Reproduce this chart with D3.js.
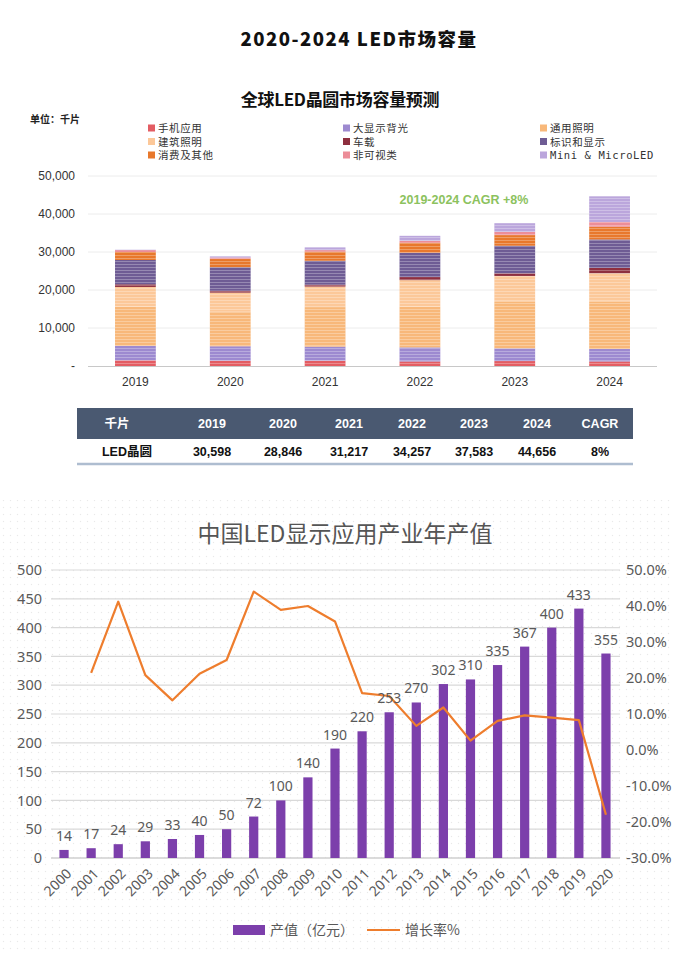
<!DOCTYPE html>
<html><head><meta charset="utf-8">
<script src="https://cdn.jsdelivr.net/npm/d3@7"></script>
<style>body{margin:0;background:#fff}svg{display:block}</style>
</head><body><svg id="c" width="674" height="954"></svg>
<script>
// ---------- Top chart data ----------
const years = ["2019","2020","2021","2022","2023","2024"];
const seriesNames = ["手机应用","大显示背光","通用照明","建筑照明","车载","标识和显示","消费及其他","非可视类","Mini & MicroLED"];
const phone        = [1500,1400,1400,1200,1300,1200];
const bigDisplay   = [3800,3800,3700,3700,3350,3300];
const general      = [10300,9100,10400,10700,12250,12400];
const architecture = [5200,5000,5400,7000,6800,7500];
const automotive   = [700,500,500,800,700,1400];
const signage      = [6400,6200,6300,6400,7250,7500];
const consumer     = [2100,2150,2400,2650,2800,3350];
const invisible    = [500,400,400,500,850,1250];
const miniLed      = [98,296,717,1307,2283,6756];
const totals       = [30598,28846,31217,34257,37583,44656];
const cagrText     = "8%";
const topTicks     = [0,10000,20000,30000,40000,50000];
const tableHeader  = ["千片","2019","2020","2021","2022","2023","2024","CAGR"];

// ---------- Bottom chart data ----------
const cnYears  = ["2000","2001","2002","2003","2004","2005","2006","2007","2008","2009","2010","2011","2012","2013","2014","2015","2016","2017","2018","2019","2020"];
const cnValue  = [14,17,24,29,33,40,50,72,100,140,190,220,253,270,302,310,335,367,400,433,355];
const cnGrowth = [null,21.4,41.2,20.8,13.8,21.2,25.0,44.0,38.9,40.0,35.7,15.8,15.0,6.7,11.8,2.6,8.1,9.6,9.0,8.3,-18.0];
const leftTicks  = [0,50,100,150,200,250,300,350,400,450,500];
const rightTicks = [-30,-20,-10,0,10,20,30,40,50];

const colors = ["#e35d63","#9d8ad0","#f8b87a","#fcc899","#8e2f3f","#6e5c94","#e8782c","#ec8d98","#bba6dc"];

const svg = d3.select("#c");
const defs = svg.append("defs");
const stripe = defs.append("pattern").attr("id","stripe").attr("patternUnits","userSpaceOnUse")
  .attr("width",4).attr("height",3);
stripe.append("rect").attr("x",0).attr("y",0).attr("width",4).attr("height",1).attr("fill","#fff").attr("opacity",0.28);
const dots = defs.append("pattern").attr("id","dots").attr("patternUnits","userSpaceOnUse")
  .attr("width",7).attr("height",7);
dots.append("circle").attr("cx",3.5).attr("cy",3.5).attr("r",0.7).attr("fill","#e9e9e9");

const SANS = "'Liberation Sans', Arial, 'Noto Sans CJK SC', sans-serif";
const CJK = "'Noto Sans CJK SC', 'Noto Sans', sans-serif";

// ---------- Titles ----------
svg.append("text").attr("x",359).attr("y",46).attr("text-anchor","middle")
  .style("font-family",CJK).style("font-weight",900).style("font-size","18.5px").style("letter-spacing","1.5px")
  .attr("fill","#111").text("2020-2024 LED市场容量");
svg.append("text").attr("x",340).attr("y",106).attr("text-anchor","middle")
  .style("font-family",CJK).style("font-weight",700).style("font-size","17px").style("letter-spacing","-0.3px")
  .attr("fill","#111").text("全球LED晶圆市场容量预测");
svg.append("text").attr("x",30).attr("y",123)
  .style("font-family",CJK).style("font-weight",700).style("font-size","10px")
  .attr("fill","#222").text("单位：千片");

// legend top
const legX = [148,343,540], legY = [128,141.5,155];
seriesNames.forEach((n,i)=>{
  const g = svg.append("g").attr("transform",`translate(${legX[i%3]},${legY[Math.floor(i/3)]})`);
  g.append("rect").attr("x",0).attr("y",-3.5).attr("width",7).attr("height",7).attr("fill",colors[i]);
  g.append("text").attr("x",10).attr("y",4).style("font-family","'DejaVu Sans Mono','Noto Sans CJK SC',monospace")
    .style("font-size","10.5px").style("letter-spacing","0.6px").attr("fill","#333").text(n);
});

// ---------- Top stacked chart ----------
const x1 = d3.scaleBand().domain(years).range([88,657]).paddingInner(0.57).paddingOuter(0.285);
const y1 = d3.scaleLinear().domain([0,50000]).range([366,176]);

svg.append("g").selectAll("line").data(topTicks.filter(d=>d>0)).join("line")
  .attr("x1",88).attr("x2",657).attr("y1",d=>y1(d)).attr("y2",d=>y1(d))
  .attr("stroke","#ececec").attr("stroke-width",1);

const topAxis = svg.append("g").attr("transform","translate(78,0)")
  .call(d3.axisLeft(y1).tickValues(topTicks).tickSize(0).tickFormat(d=>d===0?"-":d3.format(",")(d)));
topAxis.select(".domain").remove();
topAxis.selectAll("text").style("font-family",SANS).style("font-size","12px").attr("fill","#333");

const rows = years.map((y,i)=>({year:y, s0:phone[i], s1:bigDisplay[i], s2:general[i], s3:architecture[i], s4:automotive[i], s5:signage[i], s6:consumer[i], s7:invisible[i], s8:miniLed[i]}));
const keys = ["s0","s1","s2","s3","s4","s5","s6","s7","s8"];
const stacked = d3.stack().keys(keys)(rows);
const segG = svg.append("g");
stacked.forEach((layer,k)=>{
  segG.append("g").selectAll("rect").data(layer).join("rect")
    .attr("x",d=>x1(d.data.year)).attr("width",x1.bandwidth())
    .attr("y",d=>y1(d[1])).attr("height",d=>y1(d[0])-y1(d[1]))
    .attr("fill",colors[k]);
});
// texture overlay
svg.append("g").selectAll("rect").data(rows).join("rect")
  .attr("x",d=>x1(d.year)).attr("width",x1.bandwidth())
  .attr("y",(d,i)=>y1(totals[i])).attr("height",(d,i)=>y1(0)-y1(totals[i]))
  .attr("fill","url(#stripe)");

svg.append("line").attr("x1",88).attr("x2",657).attr("y1",y1(0)+0.5).attr("y2",y1(0)+0.5)
  .attr("stroke","#c8c8c8").attr("stroke-width",1.2);

const xAxisTop = svg.append("g").attr("transform",`translate(0,${y1(0)})`)
  .call(d3.axisBottom(x1).tickSize(0).tickPadding(11));
xAxisTop.select(".domain").remove();
xAxisTop.selectAll("text").style("font-family",SANS).style("font-size","12px").attr("fill","#333");

svg.append("text").attr("x",464).attr("y",204).attr("text-anchor","middle")
  .style("font-family",SANS).style("font-weight",700).style("font-size","12.5px")
  .attr("fill","#8cc25e").text("2019-2024 CAGR +" + cagrText);

// ---------- Table ----------
const colX = [117,212,283,349,412,474,537,600];
svg.append("rect").attr("x",77).attr("y",408).attr("width",556).attr("height",31).attr("fill","#4a5971");
svg.append("g").selectAll("text").data(tableHeader).join("text")
  .attr("x",(d,i)=>colX[i]).attr("y",428).attr("text-anchor","middle")
  .style("font-family",SANS).style("font-weight",700).style("font-size","12.5px").attr("fill","#fff").text(d=>d);
const rowVals = ["LED晶圆"].concat(totals.map(d3.format(","))).concat([cagrText]);
svg.append("g").selectAll("text").data(rowVals).join("text")
  .attr("x",(d,i)=>i===0?127:colX[i]).attr("y",456).attr("text-anchor","middle")
  .style("font-family",SANS).style("font-weight",700).style("font-size","12.5px").attr("fill","#111").text(d=>d);
svg.append("line").attr("x1",77).attr("x2",633).attr("y1",464).attr("y2",464)
  .attr("stroke","#aebdd0").attr("stroke-width",2.5);

// ---------- Bottom chart ----------
svg.append("rect").attr("x",0).attr("y",500).attr("width",674).attr("height",454).attr("fill","url(#dots)");

svg.append("text").attr("x",345).attr("y",542).attr("text-anchor","middle")
  .style("font-family",CJK).style("font-weight",400).style("font-size","23px")
  .attr("fill","#555").text("中国LED显示应用产业年产值");

const x2 = d3.scaleBand().domain(cnYears).range([50.5,619.5]).paddingInner(0.66).paddingOuter(0.33);
const yL = d3.scaleLinear().domain([0,500]).range([858,570]);
const yR = d3.scaleLinear().domain([-30,50]).range([858,570]);

svg.append("g").selectAll("line").data(leftTicks).join("line")
  .attr("x1",51).attr("x2",620).attr("y1",d=>yL(d)).attr("y2",d=>yL(d))
  .attr("stroke",d=>d===0?"#cfcfcf":"#d9d9d9").attr("stroke-width",d=>d===0?1.5:1.2);

const axL = svg.append("g").attr("transform","translate(42,0)")
  .call(d3.axisLeft(yL).tickValues(leftTicks).tickSize(0).tickPadding(0));
axL.select(".domain").remove();
axL.selectAll("text").style("font-family","'Noto Sans', sans-serif").style("font-size","14.5px").attr("fill","#595959");

const axR = svg.append("g").attr("transform","translate(626,0)")
  .call(d3.axisRight(yR).tickValues(rightTicks).tickSize(0).tickPadding(0).tickFormat(d=>d.toFixed(1)+"%"));
axR.select(".domain").remove();
axR.selectAll("text").style("font-family","'Noto Sans', sans-serif").style("font-size","14.5px").attr("fill","#595959");

svg.append("g").selectAll("rect").data(cnYears).join("rect")
  .attr("x",d=>x2(d)).attr("width",x2.bandwidth())
  .attr("y",(d,i)=>yL(cnValue[i])).attr("height",(d,i)=>yL(0)-yL(cnValue[i]))
  .attr("fill","#7c3fab");

const line = d3.line().defined(d=>d.v!==null).x(d=>x2(d.y)+x2.bandwidth()/2).y(d=>yR(d.v));
svg.append("path").datum(cnYears.map((y,i)=>({y, v:cnGrowth[i]})))
  .attr("d",line).attr("fill","none").attr("stroke","#ee7d2d").attr("stroke-width",2.2)
  .attr("stroke-linejoin","round");

svg.append("g").selectAll("text").data(cnYears).join("text")
  .attr("x",d=>x2(d)+x2.bandwidth()/2).attr("y",(d,i)=>yL(cnValue[i])-9)
  .attr("text-anchor","middle")
  .style("font-family","'Noto Sans', sans-serif").style("font-size","14px").attr("fill","#595959")
  .text((d,i)=>cnValue[i]);

const axB = svg.append("g").attr("transform","translate(0,858)")
  .call(d3.axisBottom(x2).tickSize(0).tickPadding(0));
axB.select(".domain").remove();
axB.selectAll("text").attr("transform","translate(5,13) rotate(-45)").attr("text-anchor","end").attr("dy","0.35em")
  .style("font-family","'Noto Sans', sans-serif").style("font-size","14px").attr("fill","#595959");

// legend bottom
svg.append("rect").attr("x",233).attr("y",925).attr("width",32).attr("height",10).attr("fill","#7c3fab");
svg.append("text").attr("x",270).attr("y",935).style("font-family",CJK).style("font-size","14px").attr("fill","#595959").text("产值（亿元）");
svg.append("line").attr("x1",367).attr("x2",400).attr("y1",930).attr("y2",930).attr("stroke","#ee7d2d").attr("stroke-width",2.2);
svg.append("text").attr("x",405).attr("y",935).style("font-family",CJK).style("font-size","14px").attr("fill","#595959").text("增长率%");
</script></body></html>
